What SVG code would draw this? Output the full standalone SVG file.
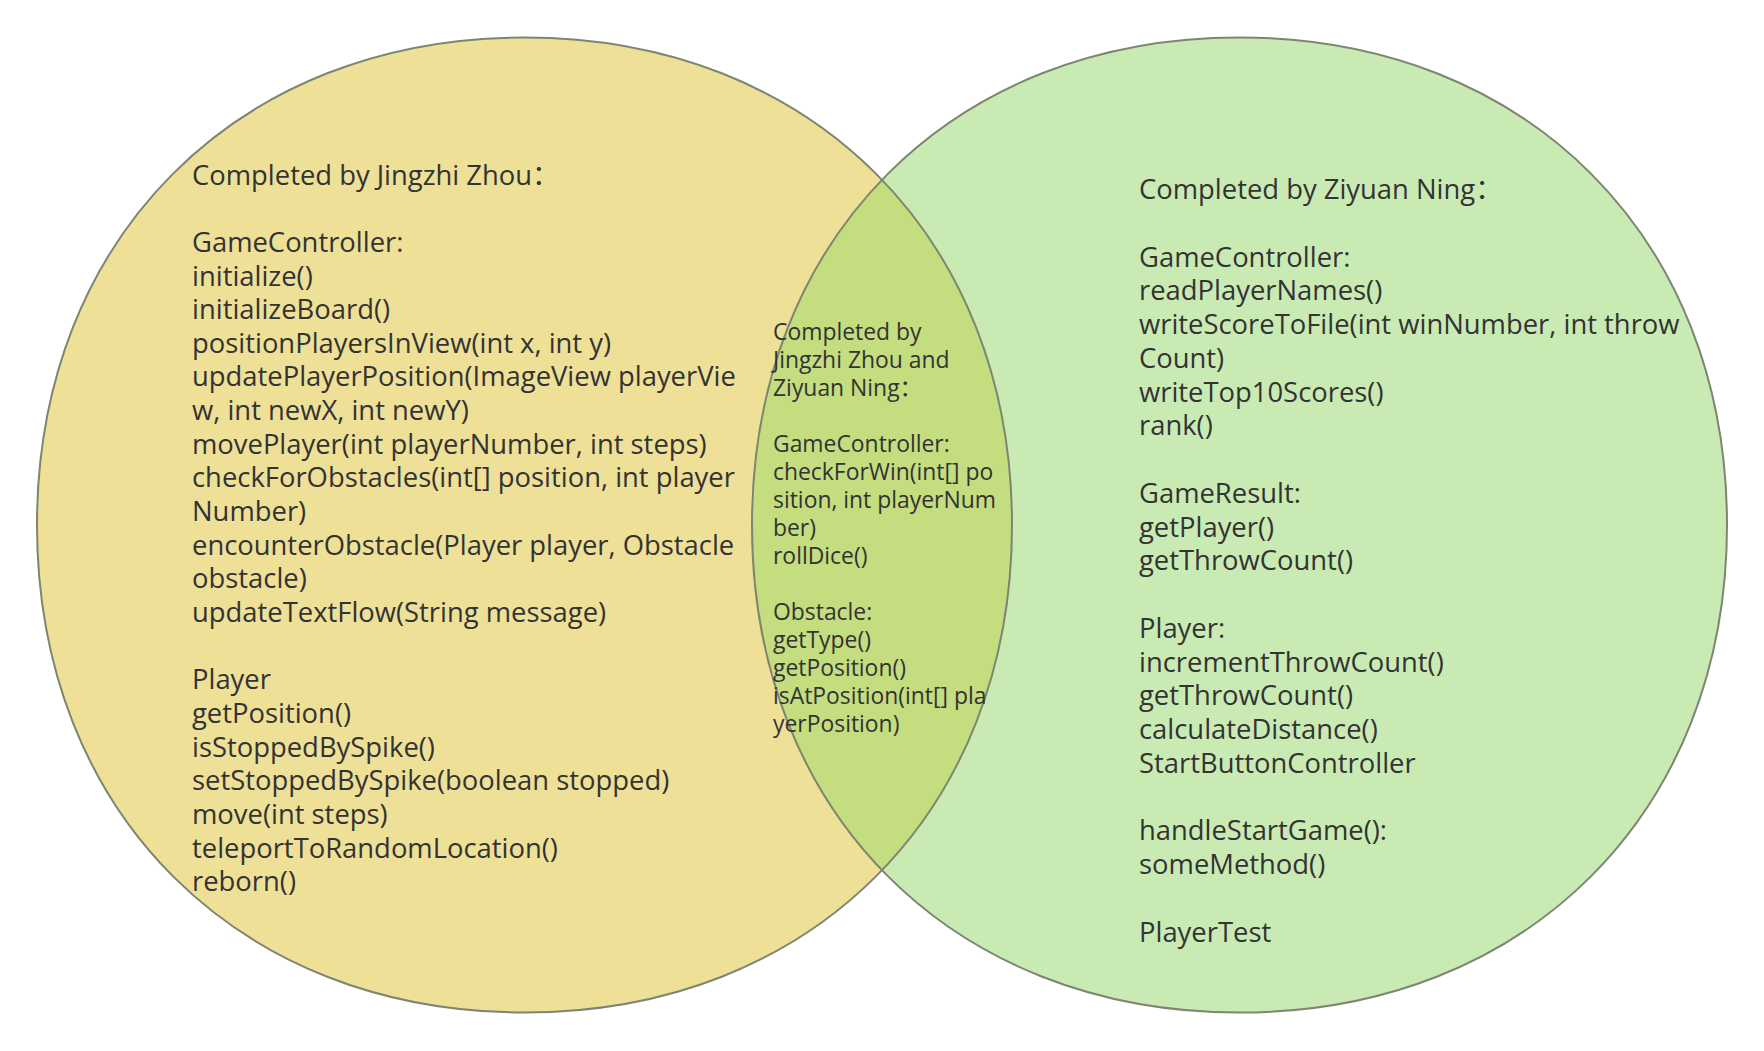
<svg xmlns="http://www.w3.org/2000/svg" width="1764" height="1051" viewBox="0 0 1764 1051">
<style>
.t{font-family:"Open Sans","Noto Sans CJK SC",sans-serif;fill:#333333;}
.big{font-size:27.4px;}
.small{font-size:22.9px;}
.fill-l{fill:#EEE097;}
.fill-r{fill:#C9EBB3;}
.fill-o{fill:#C3DD7F;}
.edge{fill:none;stroke:#7E8570;stroke-width:2;}
</style>
<defs>
<path id="lc" d="M 1012,525 C 1012,812.1 811.6,1012.5 524.5,1012.5 C 237.4,1012.5 37,812.1 37,525 C 37,237.9 237.4,37.5 524.5,37.5 C 811.6,37.5 1012,237.9 1012,525 Z"/>
<path id="rc" d="M 1727,525 C 1727,812.1 1526.6,1012.5 1239.5,1012.5 C 952.4,1012.5 752,812.1 752,525 C 752,237.9 952.4,37.5 1239.5,37.5 C 1526.6,37.5 1727,237.9 1727,525 Z"/>
<clipPath id="clipL"><use href="#lc"/></clipPath>
</defs>
<rect width="1764" height="1051" fill="#ffffff"/>
<g id="circle-left">
<use href="#lc" class="fill-l"/>
</g>
<g id="circle-right">
<use href="#rc" class="fill-r"/>
</g>
<g id="overlap">
<use href="#rc" class="fill-o" clip-path="url(#clipL)"/>
</g>
<g id="connectors">
<use href="#lc" class="edge"/>
<use href="#rc" class="edge"/>
</g>
<g id="text-left">
<text class="t big" x="192" y="184.5">
<tspan x="192" y="184.5">Completed by Jingzhi Zhou：</tspan>
<tspan x="192" y="251.8">GameController:</tspan>
<tspan x="192" y="285.5">initialize()</tspan>
<tspan x="192" y="319.1">initializeBoard()</tspan>
<tspan x="192" y="352.8">positionPlayersInView(int x, int y)</tspan>
<tspan x="192" y="386.4">updatePlayerPosition(ImageView playerVie</tspan>
<tspan x="192" y="420.1">w, int newX, int newY)</tspan>
<tspan x="192" y="453.7">movePlayer(int playerNumber, int steps)</tspan>
<tspan x="192" y="487.4">checkForObstacles(int[] position, int player</tspan>
<tspan x="192" y="521">Number)</tspan>
<tspan x="192" y="554.7">encounterObstacle(Player player, Obstacle</tspan>
<tspan x="192" y="588.3">obstacle)</tspan>
<tspan x="192" y="622">updateTextFlow(String message)</tspan>
<tspan x="192" y="689.3">Player</tspan>
<tspan x="192" y="722.9">getPosition()</tspan>
<tspan x="192" y="756.6">isStoppedBySpike()</tspan>
<tspan x="192" y="790.2">setStoppedBySpike(boolean stopped)</tspan>
<tspan x="192" y="823.9">move(int steps)</tspan>
<tspan x="192" y="857.5">teleportToRandomLocation()</tspan>
<tspan x="192" y="891.2">reborn()</tspan>
</text>
</g>
<g id="text-middle">
<text class="t small" x="773" y="340">
<tspan x="773" y="340">Completed by</tspan>
<tspan x="773" y="368">Jingzhi Zhou and</tspan>
<tspan x="773" y="396">Ziyuan Ning：</tspan>
<tspan x="773" y="452">GameController:</tspan>
<tspan x="773" y="480">checkForWin(int[] po</tspan>
<tspan x="773" y="508">sition, int playerNum</tspan>
<tspan x="773" y="536">ber)</tspan>
<tspan x="773" y="564">rollDice()</tspan>
<tspan x="773" y="620">Obstacle:</tspan>
<tspan x="773" y="648">getType()</tspan>
<tspan x="773" y="676">getPosition()</tspan>
<tspan x="773" y="704">isAtPosition(int[] pla</tspan>
<tspan x="773" y="732">yerPosition)</tspan>
</text>
</g>
<g id="text-right">
<text class="t big" x="1139" y="199">
<tspan x="1139" y="199">Completed by Ziyuan Ning：</tspan>
<tspan x="1139" y="266.5">GameController:</tspan>
<tspan x="1139" y="300.3">readPlayerNames()</tspan>
<tspan x="1139" y="334">writeScoreToFile(int winNumber, int throw</tspan>
<tspan x="1139" y="367.8">Count)</tspan>
<tspan x="1139" y="401.5">writeTop10Scores()</tspan>
<tspan x="1139" y="435.3">rank()</tspan>
<tspan x="1139" y="502.8">GameResult:</tspan>
<tspan x="1139" y="536.5">getPlayer()</tspan>
<tspan x="1139" y="570.3">getThrowCount()</tspan>
<tspan x="1139" y="637.8">Player:</tspan>
<tspan x="1139" y="671.5">incrementThrowCount()</tspan>
<tspan x="1139" y="705.3">getThrowCount()</tspan>
<tspan x="1139" y="739">calculateDistance()</tspan>
<tspan x="1139" y="772.8">StartButtonController</tspan>
<tspan x="1139" y="840.3">handleStartGame():</tspan>
<tspan x="1139" y="874">someMethod()</tspan>
<tspan x="1139" y="941.5">PlayerTest</tspan>
</text>
</g>
</svg>
